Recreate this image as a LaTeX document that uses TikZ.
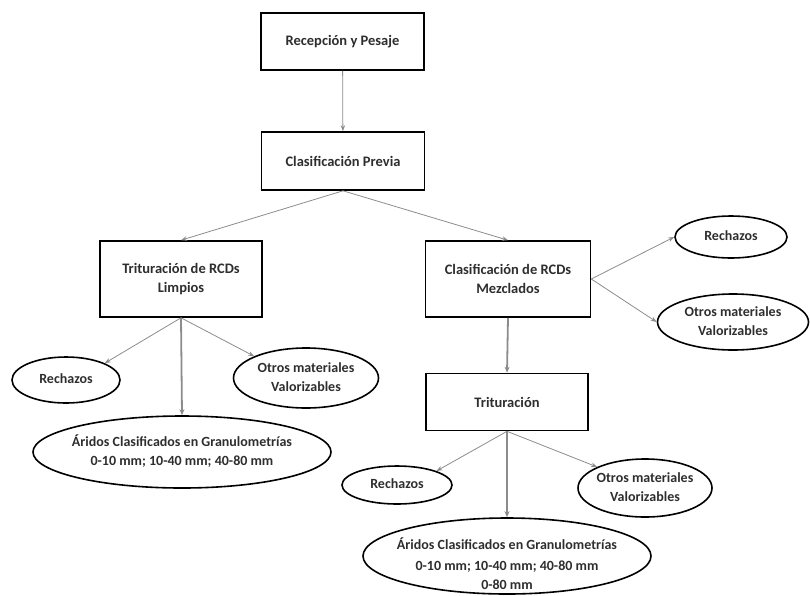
\documentclass[tikz,border=0pt]{standalone}
\usepackage{fontspec}
\setmainfont{Carlito}
\usetikzlibrary{shapes.geometric,arrows.meta}
\definecolor{txtColor}{rgb}{0.18,0.18,0.18}
\definecolor{arrColor}{rgb}{0.55,0.55,0.55}
\tikzset{
  procBox/.style={draw,line width=1.6pt,align=center,inner sep=0pt,
    text=txtColor,font=\bfseries\fontsize{14.5}{19}\selectfont},
  outEll/.style={draw,ellipse,line width=1.6pt,inner sep=0pt,
    text=txtColor,font=\bfseries\fontsize{14}{19}\selectfont},
  thinArr/.style={draw=arrColor,line width=0.8pt,-{Stealth[length=6pt,width=4.5pt]}},
  thickArr/.style={draw=arrColor,line width=1.8pt,-{Stealth[length=6pt,width=5pt]}}
}
\newcommand{\elltext}[1]{\makebox[0pt]{\begin{tabular}{@{}c@{}}#1\end{tabular}}}

\begin{document}
\begin{tikzpicture}[x=1pt,y=-1pt]
\useasboundingbox (0,0) rectangle (810,595);
% process boxes
\node[procBox,minimum width=163,minimum height=57] (recep) at (342.5,41.5) {Recepción y Pesaje};
\node[procBox,minimum width=163,minimum height=58] (previa) at (343,161) {Clasificación Previa};
\node[procBox,minimum width=162,minimum height=76] (limpios) at (181,279) {Trituración de RCDs\\Limpios};
\node[procBox,minimum width=165,minimum height=76] (mezcla) at (508,279) {Clasificación de RCDs\\Mezclados};
\node[procBox,minimum width=162,minimum height=57] (tritu) at (507,402) {Trituración};
% outputs
\node[outEll,minimum width=108,minimum height=46] (rechL) at (66,380) {\elltext{Rechazos}};
\node[outEll,minimum width=145,minimum height=60] (otrosL) at (306,378) {\elltext{Otros materiales\\Valorizables}};
\node[outEll,minimum width=298,minimum height=72] (aridL) at (182,452) {\elltext{Áridos Clasificados en Granulometrías\\0-10 mm; 10-40 mm; 40-80 mm}};
\node[outEll,minimum width=112,minimum height=42] (rechR) at (731,237) {\elltext{Rechazos}};
\node[outEll,minimum width=151,minimum height=56] (otrosR) at (733,322) {\elltext{Otros materiales\\Valorizables}};
\node[outEll,minimum width=110,minimum height=38] (rechB) at (397,485) {\elltext{Rechazos}};
\node[outEll,minimum width=134,minimum height=58] (otrosB) at (645,488) {\elltext{Otros materiales\\Valorizables}};
\node[outEll,minimum width=288,minimum height=76] (aridB) at (507,556)
  {\raisebox{-13pt}[0pt][0pt]{\elltext{Áridos Clasificados en Granulometrías\\[2pt]0-10 mm; 10-40 mm; 40-80 mm\\0-80 mm}}};
%
\draw[thinArr] (recep) -- (previa);
\draw[thinArr] (previa.south) -- (limpios.north);
\draw[thinArr] (previa.south) -- (mezcla.north);
\draw[thinArr] (limpios.south) -- (rechL.north east);
\draw[thinArr] (limpios.south) -- (otrosL.north west);
\draw[thickArr] (limpios.south) -- (aridL.north);
\draw[thinArr] (mezcla.east) -- (rechR.west);
\draw[thinArr] (mezcla.east) -- (otrosR.west);
\draw[thickArr] (mezcla.south) -- (tritu.north);
\draw[thinArr] (tritu.south) -- (rechB.north east);
\draw[thinArr] (tritu.south) -- (otrosB.north west);
\draw[thickArr] (tritu.south) -- (aridB.north);
\end{tikzpicture}
\end{document}
